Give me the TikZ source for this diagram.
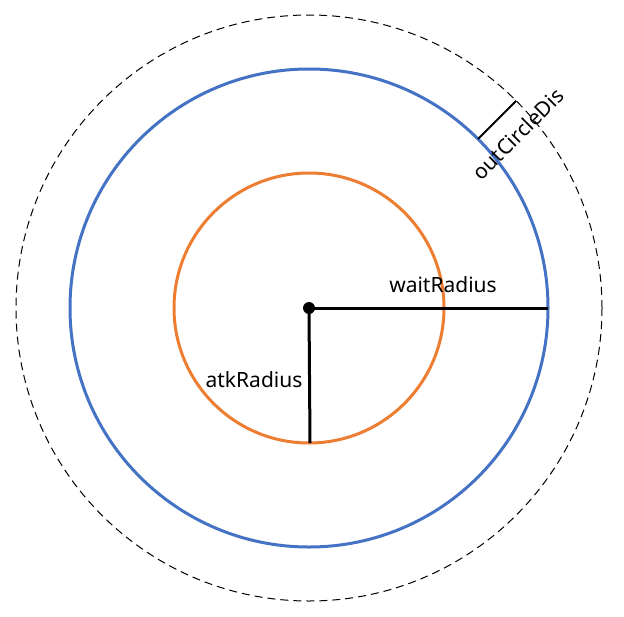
\documentclass[tikz,border=0pt]{standalone}
\usepackage{fontspec}
\setmainfont{Noto Sans}
\usetikzlibrary{calc}
\definecolor{ablue}{HTML}{4472C4}
\definecolor{aorange}{HTML}{ED7D31}
\begin{document}
\begin{tikzpicture}[x=1pt,y=-1pt,
  ring/.style={line width=3pt},
  radline/.style={line width=3pt,black},
  lbl/.style={font=\fontsize{21}{24}\selectfont, inner sep=0pt}]
\useasboundingbox (0,0) rectangle (624,616);
\coordinate (c) at (309,308);
\draw[line width=1pt, dash pattern=on 8pt off 5pt] (c) circle[radius=293];
\draw[ring, ablue] (c) circle[radius=239];
\draw[ring, aorange] (c) circle[radius=135];
\coordinate (w) at (548,308);
\coordinate (a) at (310,443);
\coordinate (o1) at ($(c)+(-45:239)$);
\coordinate (o2) at ($(c)+(-45:293)$);
\draw[radline] (c) -- (w);
\draw[radline] (c) -- (a);
\draw[line width=2pt] (o1) -- (o2);
\fill (c) circle[radius=6];
\node[lbl] (wl) at (443,285) {waitRadius};
\node[lbl] (al) at (254,380) {atkRadius};
\node[lbl, rotate=45] (ol) at (518,134) {outCircleDis};
\end{tikzpicture}
\end{document}
